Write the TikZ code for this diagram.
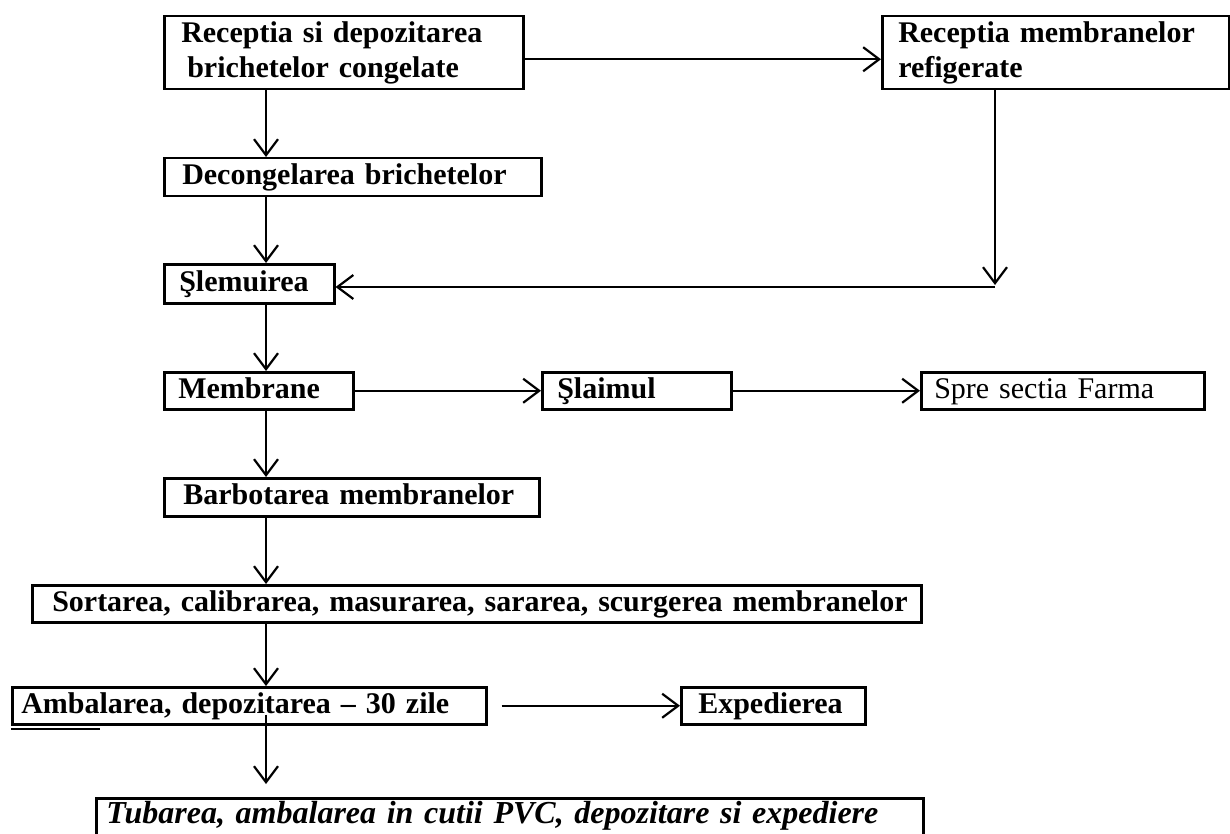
\documentclass[tikz,border=0pt]{standalone}
\usepackage{fontspec}
\setmainfont{Liberation Serif}
\usetikzlibrary{arrows.meta}
\begin{document}
\begin{tikzpicture}[x=1pt,y=-1pt,
  box/.style={draw, line width=2.5pt, anchor=north west, inner ysep=0pt, align=left,
    font=\fontsize{30}{35}\selectfont\bfseries},
  one/.style={text height=22pt, text depth=7pt, minimum height=37pt},
  arr/.style={line width=2.2pt, -{Straight Barb[length=16pt,width=24pt]}}]
\useasboundingbox (0,0) rectangle (1230,834);
\fill[white] (0,0) rectangle (1230,834);

\node[box, inner xsep=17pt, text width=325pt, minimum height=73pt] (b1) at (163,15)
  {Receptia si depozitarea\\\hspace*{6pt}brichetelor congelate};
\node[box, inner xsep=16pt, text width=315pt, minimum height=73pt] (b2) at (881,15)
  {Receptia membranelor\\refigerate};
\node[box, one, inner xsep=18pt, text width=341pt, minimum height=38pt] (dec) at (163,157)
  {Decongelarea brichetelor};
\node[box, one, inner xsep=15pt, text width=140pt, minimum height=39pt] (sl) at (163,263)
  {Şlemuirea};
\node[box, one, inner xsep=14pt, text width=161pt] (mem) at (163,371)
  {Membrane};
\node[box, one, inner xsep=15pt, text width=159pt] (slai) at (541,371)
  {Şlaimul};
\node[box, one, inner xsep=13pt, text width=257pt, font=\fontsize{30}{35}\selectfont\mdseries] (spre) at (920,371)
  {Spre sectia Farma};
\node[box, one, inner xsep=19pt, text width=337pt, minimum height=38pt] (barb) at (163,477)
  {Barbotarea membranelor};
\node[box, one, inner xsep=20pt, text width=849pt] (sort) at (31,584)
  {\mbox{Sortarea, calibrarea, masurarea, sararea, scurgerea membranelor}};
\node[box, one, inner xsep=9pt, text width=456pt] (amb) at (11,686)
  {\mbox{Ambalarea, depozitarea – 30 zile}};
\node[box, one, inner xsep=17pt, text width=150pt] (exp) at (680,686)
  {Expedierea};
\node[box, inner xsep=10pt, text width=807pt, text height=23pt, text depth=12pt, minimum height=40pt,
  font=\fontsize{32}{37}\selectfont\bfseries\itshape] (tub) at (95,797)
  {\mbox{Tubarea, ambalarea in cutii PVC, depozitare si expediere}};

\coordinate (cx) at (266,0);
\coordinate (cr) at (995,285);
\coordinate (cr2) at (995,287);
\coordinate (ambs) at ([yshift=11pt]amb.south);

\draw[arr] ([yshift=-6.5pt]b1.east) -- ([yshift=-6.5pt]b2.west);
\draw[arr] (b1.south -| cx) -- (dec.north -| cx);
\draw[arr] (dec.south -| cx) -- (sl.north -| cx);
\draw[arr] (b2.south -| cr) -- (cr);
\draw[arr] (cr2) -- (sl.east |- cr2);
\draw[arr] (sl.south -| cx) -- (mem.north -| cx);
\draw[arr] (mem.east) -- (slai.west);
\draw[arr] (slai.east) -- (spre.west);
\draw[arr] (mem.south -| cx) -- (barb.north -| cx);
\draw[arr] (barb.south -| cx) -- (sort.north -| cx);
\draw[arr] (sort.south -| cx) -- (amb.north -| cx);
\draw[arr] ([xshift=14pt]amb.east) -- (exp.west);
\draw[arr, shorten >=13pt] (ambs -| cx) -- (tub.north -| cx);
\draw[line width=2pt] (11,729) -- (100,729);
\end{tikzpicture}
\end{document}
